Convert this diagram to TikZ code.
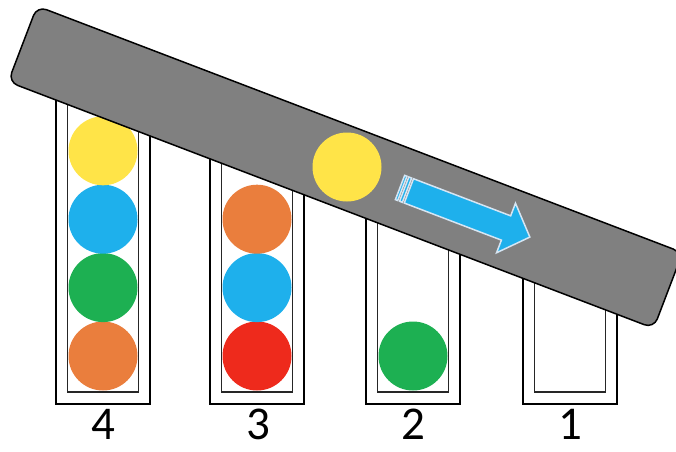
\documentclass[tikz,border=0pt]{standalone}
\usepackage{fontspec}
\setmainfont{Carlito}
\usetikzlibrary{positioning}
\definecolor{ballyellow}{HTML}{FFE448}
\definecolor{ballblue}{HTML}{1EB0EC}
\definecolor{ballgreen}{HTML}{1DB052}
\definecolor{ballorange}{HTML}{EA7E3D}
\definecolor{ballred}{HTML}{EE2A1C}
\definecolor{slidegray}{HTML}{808080}
\definecolor{pushedge}{HTML}{D6E6F4}
\tikzset{
    ball/.style={
      circle,
           inner sep=0pt,
           minimum size=69pt,
           },
}
\tikzset{
    tubeout/.style={
           draw=black, line width=2pt,
           },
    tubein/.style={
           draw=black!85, line width=1.5pt,
           },
}
\tikzset{
    slide/.style={
      rectangle,
           draw=black, line width=1.5pt,
           fill=slidegray,
           rounded corners=10pt,
           minimum width=691pt,
           minimum height=81pt,
           },
}
\tikzset{
    push/.style={
           fill=ballblue,
           draw=pushedge, line width=1.5pt,
           line join=miter,
           },
}
\tikzset{
    number/.style={
           font=\fontsize{47}{47}\selectfont,
           inner sep=0pt,
           anchor=base,
           },
}

\begin{document}
\begin{tikzpicture}[x=1pt,y=1pt]
\useasboundingbox (0,0) rectangle (676,451);

% the four tubes: centre x / height of the open top
\foreach \cx/\top in {103/376,257/317,413/257,570/198}{
  \draw[tubeout] (\cx-47,\top) -- (\cx-47,47) -- (\cx+47,47) -- (\cx+47,\top);
  \draw[tubein] (\cx-35.5,\top) -- (\cx-35.5,59) -- (\cx+35.5,59) -- (\cx+35.5,\top);
}

% tube 4
\node[ball,fill=ballorange] (o4) at (103,95) {};
\node[ball,fill=ballgreen,above=-1pt of o4] (g4) {};
\node[ball,fill=ballblue,above=-1pt of g4] (b4) {};
\node[ball,fill=ballyellow,above=-1pt of b4] (y4) {};

% tube 3
\node[ball,fill=ballred] (r3) at (257,95) {};
\node[ball,fill=ballblue,above=-1pt of r3] (b3) {};
\node[ball,fill=ballorange,above=-1pt of b3] (o3) {};

% tube 2
\node[ball,fill=ballgreen] (g2) at (413,95) {};

% the tilted slide and the ball rolling on it
\node[slide,rotate=-20.9] (slide) at (345.4,283.8) {};
\node[ball,fill=ballyellow] (roll) at (347,284) {};

% striped arrow along the slide
\begin{scope}[shift={(400,263.5)},rotate=-20.9]
  \draw[push] (0,-13) rectangle (2.5,13);
  \draw[push] (4.5,-13) rectangle (7.5,13);
  \draw[push] (9.5,13) -- (113.5,13) -- (113.5,26.5) -- (139,0)
    -- (113.5,-26.5) -- (113.5,-13) -- (9.5,-13) -- cycle;
\end{scope}

\node[number] (n4) at (103,12) {4};
\node[number] (n3) at (258,12) {3};
\node[number] (n2) at (413,12) {2};
\node[number] (n1) at (570,12) {1};

\end{tikzpicture}
\end{document}
